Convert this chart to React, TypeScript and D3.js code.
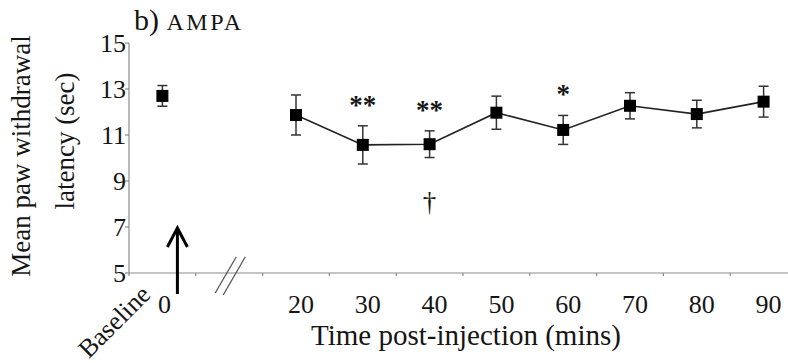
import React from "react";
import * as d3 from "d3";

const categories = ["0", "break", "20", "30", "40", "50", "60", "70", "80", "90"];
const tickLabels = ["0", "", "20", "30", "40", "50", "60", "70", "80", "90"];
const baselineValue = [{ cat: "0", mean: 12.7, err: 0.45 }];
const timeCats = ["20", "30", "40", "50", "60", "70", "80", "90"];
const timeMeans = [11.87, 10.57, 10.6, 11.97, 11.22, 12.27, 11.91, 12.45];
const timeErrs = [0.87, 0.83, 0.58, 0.72, 0.63, 0.57, 0.6, 0.67];
const yTicks = [5, 7, 9, 11, 13, 15];
const starCats = ["30", "40", "60"];
const starLabels = ["**", "**", "*"];
const daggerCats = ["40"];

const W = 788;
const H = 363;
const FONT = "'Liberation Serif', 'Times New Roman', serif";
const INK = "#151515";

export default function App() {
  const x = d3.scaleBand<string>().domain(categories).range([129, 797]).paddingInner(0).paddingOuter(0);
  const y = d3.scaleLinear().domain([5, 15]).range([273, 43]);
  const cx = (c: string) => (x(c) as number) + x.bandwidth() / 2;

  const series = timeCats.map((c, i) => ({ cat: c, mean: timeMeans[i], err: timeErrs[i] }));
  const line = d3
    .line<{ cat: string; mean: number }>()
    .x((d) => cx(d.cat))
    .y((d) => y(d.mean));

  const all = [...baselineValue, ...series];
  const boundaries = categories.map((c) => x(c) as number);
  const x0 = 129;
  const yBase = y(5);
  const arrowX = cx("0") + 15;
  const breakX = cx("break");

  return (
    <svg width={W} height={H} style={{ position: "absolute", left: 0, top: 0, background: "#fff" }}>
      <rect width={W} height={H} fill="#fff" />
      {/* title */}
      <text x={134} y={30} fontFamily={FONT} fill={INK}>
        <tspan fontSize={30}>b) </tspan>
        <tspan fontSize={24} letterSpacing={2.5}>AMPA</tspan>
      </text>
      {/* y axis */}
      <line x1={x0} x2={x0} y1={y(15)} y2={yBase} stroke="#8a8a8a" strokeWidth={1.2} />
      {yTicks.map((t) => (
        <g key={t}>
          <line x1={x0 - 4} x2={x0} y1={y(t)} y2={y(t)} stroke="#8a8a8a" strokeWidth={1.2} />
          <text x={x0 - 3} y={y(t) + 9} textAnchor="end" fontFamily={FONT} fontSize={26} fill={INK}>
            {t}
          </text>
        </g>
      ))}
      {/* x axis */}
      <line x1={x0} x2={788} y1={yBase} y2={yBase} stroke="#8a8a8a" strokeWidth={1.2} />
      {boundaries.map((b, i) => (
        <line key={i} x1={b} x2={b} y1={yBase} y2={yBase + 3} stroke="#8a8a8a" strokeWidth={1.2} />
      ))}
      {categories.map((c, i) =>
        tickLabels[i] ? (
          <text key={c} x={c === "0" ? cx(c) + 2 : cx(c) + 5} y={313} textAnchor="middle" fontFamily={FONT} fontSize={26} fill={INK}>
            {tickLabels[i]}
          </text>
        ) : null
      )}
      <text
        x={152}
        y={296}
        textAnchor="end"
        fontFamily={FONT}
        fontSize={26}
        fill={INK}
        transform="rotate(-45 152 296)"
      >
        Baseline
      </text>
      <text x={466} y={345} textAnchor="middle" fontFamily={FONT} fontSize={29} fill={INK}>
        Time post-injection (mins)
      </text>
      {/* y label */}
      <text transform="translate(30,156) rotate(-90)" textAnchor="middle" fontFamily={FONT} fontSize={27} fill={INK}>
        Mean paw withdrawal
      </text>
      <text transform="translate(74,141) rotate(-90)" textAnchor="middle" fontFamily={FONT} fontSize={27} fill={INK}>
        latency (sec)
      </text>
      {/* break marks */}
      <line x1={breakX - 14} y1={293} x2={breakX + 7} y2={257} stroke="#555" strokeWidth={1.3} />
      <line x1={breakX - 6} y1={295} x2={breakX + 16} y2={257} stroke="#555" strokeWidth={1.3} />
      {/* arrow */}
      <line x1={arrowX} x2={arrowX} y1={294} y2={229} stroke="#000" strokeWidth={3} />
      <polyline
        points={`${arrowX - 10},${247} ${arrowX},${228} ${arrowX + 10},${247}`}
        fill="none"
        stroke="#000"
        strokeWidth={3}
      />
      {/* line */}
      <path d={line(series) as string} fill="none" stroke="#222" strokeWidth={1.6} />
      {/* error bars */}
      {all.map((d) => (
        <g key={d.cat} stroke="#333" strokeWidth={1.5}>
          <line x1={cx(d.cat)} x2={cx(d.cat)} y1={y(d.mean + d.err)} y2={y(d.mean - d.err)} />
          <line x1={cx(d.cat) - 5} x2={cx(d.cat) + 5} y1={y(d.mean + d.err)} y2={y(d.mean + d.err)} />
          <line x1={cx(d.cat) - 5} x2={cx(d.cat) + 5} y1={y(d.mean - d.err)} y2={y(d.mean - d.err)} />
        </g>
      ))}
      {all.map((d) => (
        <rect key={d.cat} x={cx(d.cat) - 6} y={y(d.mean) - 6} width={12} height={12} fill="#000" />
      ))}
      {/* significance */}
      {starCats.map((c, i) => {
        const d = series.find((s) => s.cat === c)!;
        return (
          <text key={c} x={cx(c)} y={y(d.mean + d.err) - 12} textAnchor="middle" fontFamily={FONT} fontSize={27} fontWeight="bold" fill={INK}>
            {starLabels[i]}
          </text>
        );
      })}
      {daggerCats.map((c) => {
        const d = series.find((s) => s.cat === c)!;
        return (
          <text key={c} x={cx(c)} y={y(d.mean - d.err) + 53} textAnchor="middle" fontFamily={FONT} fontSize={27} fill={INK}>
            †
          </text>
        );
      })}
    </svg>
  );
}
